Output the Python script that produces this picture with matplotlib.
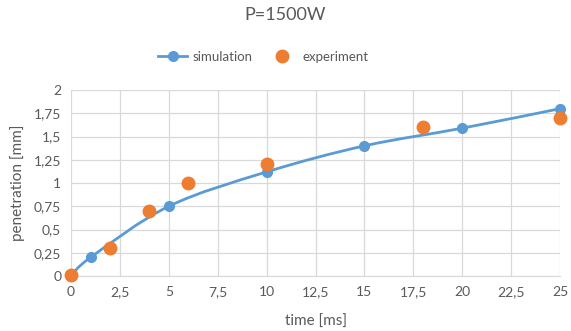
import numpy as np
import matplotlib
matplotlib.use("Agg")
import matplotlib.pyplot as plt
from matplotlib.path import Path
from matplotlib.patches import PathPatch
from matplotlib.lines import Line2D

plt.rcParams['font.family'] = ['Lato', 'DejaVu Sans']

# data
sim_t = [0, 1, 5, 10, 15, 20, 25]
sim_p = [0, 0.2, 0.75, 1.12, 1.4, 1.59, 1.8]
exp_t = [0, 2, 4, 6, 10, 18, 25]
exp_p = [0.01, 0.3, 0.7, 1.0, 1.2, 1.6, 1.7]

xticks = [0, 2.5, 5, 7.5, 10, 12.5, 15, 17.5, 20, 22.5, 25]
xlabels = ["0", "2,5", "5", "7,5", "10", "12,5", "15", "17,5", "20", "22,5", "25"]
yticks = [0, 0.25, 0.5, 0.75, 1, 1.25, 1.5, 1.75, 2]
ylabels = ["0", "0,25", "0,5", "0,75", "1", "1,25", "1,5", "1,75", "2"]

blue = "#5b9bd5"
orange = "#ed7d31"
txt = "#595959"

fig = plt.figure(figsize=(5.71, 3.31), dpi=100)
ax = fig.add_axes([0.1243, 0.166, 0.8567, 0.562])

# smoothed line through the simulation points (bezier segments, excel style)
P = np.column_stack([sim_t, sim_p]).astype(float)
verts = [P[0]]
codes = [Path.MOVETO]
n = len(P)
for i in range(n - 1):
    p0 = P[i - 1] if i > 0 else P[i]
    p3 = P[i + 2] if i + 2 < n else P[i + 1]
    c1 = P[i] + (P[i + 1] - p0) / 6.0
    c2 = P[i + 1] - (p3 - P[i]) / 6.0
    verts += [c1, c2, P[i + 1]]
    codes += [Path.CURVE4] * 3
ax.add_patch(PathPatch(Path(verts, codes), fill=False, edgecolor=blue, lw=2, zorder=3))
ax.plot(sim_t, sim_p, 'o', color=blue, ms=7, zorder=4, clip_on=False)
ax.plot(exp_t, exp_p, 'o', color=orange, ms=9, zorder=5, clip_on=False)

ax.set_xlim(0, 25)
ax.set_ylim(0, 2)
ax.set_xticks(xticks)
ax.set_xticklabels(xlabels)
ax.set_yticks(yticks)
ax.set_yticklabels(ylabels)
ax.grid(True, color="#d9d9d9", lw=0.9)
ax.set_axisbelow(True)
for s in ["top", "right", "left"]:
    ax.spines[s].set_visible(False)
ax.spines["bottom"].set_color("#d9d9d9")
ax.tick_params(length=0, labelsize=10, colors=txt, pad=7)
ax.set_xlabel("time [ms]", fontsize=11, color=txt, labelpad=12)
ax.set_ylabel("penetration [mm]", fontsize=11, color=txt, labelpad=6)

fig.text(0.5, 0.955, "P=1500W", ha="center", va="center", fontsize=13, color=txt)

h1 = Line2D([], [], color=blue, lw=2, marker='o', ms=7)
h2 = Line2D([], [], color=orange, lw=0, marker='o', ms=9)
fig.legend([h1, h2], ["simulation", "experiment"], loc="center", bbox_to_anchor=(0.461, 0.828),
           ncol=2, frameon=False, fontsize=9.5, labelcolor=txt, handlelength=2.2,
           columnspacing=1.15, handletextpad=0.4)

fig.savefig("out.png", dpi=100)
